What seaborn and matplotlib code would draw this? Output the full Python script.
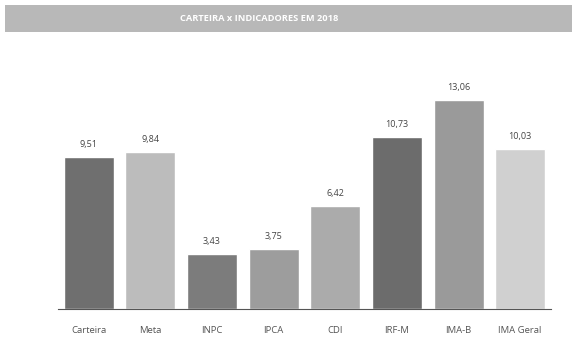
import numpy as np
import pandas as pd
import matplotlib
matplotlib.use("Agg")
import matplotlib.pyplot as plt
import seaborn as sns
from matplotlib.patches import Rectangle

# data
categories = ["Carteira", "Meta", "INPC", "IPCA", "CDI", "IRF-M", "IMA-B", "IMA Geral"]
values = [9.51, 9.84, 3.43, 3.75, 6.42, 10.73, 13.06, 10.03]
value_labels = ["9,51", "9,84", "3,43", "3,75", "6,42", "10,73", "13,06", "10,03"]
bar_colors = ["#6f6f6f", "#bcbcbc", "#7c7c7c", "#9d9d9d", "#ababab", "#6c6c6c", "#9a9a9a", "#d0d0d0"]
title = "CARTEIRA x INDICADORES EM 2018"

sns.set_style("white")
plt.rcParams["font.family"] = ["Open Sans", "DejaVu Sans"]

df = pd.DataFrame({"indicador": categories, "valor": values})

fig = plt.figure(figsize=(5.77, 3.38), dpi=100)
ax = fig.add_axes([58 / 577, 29 / 338, 493 / 577, 232 / 338])

sns.barplot(data=df, x="indicador", y="valor", hue="indicador", palette=bar_colors,
            legend=False, width=0.81, ax=ax, saturation=1)

ax.set_ylim(0, 14.5)
ax.set_xlim(-0.5, 7.5)
for i, (v, lab) in enumerate(zip(values, value_labels)):
    ax.text(i, v + 0.5, lab, ha="center", va="bottom", fontsize=6.5, color="#444444")

sns.despine(ax=ax, left=True)
ax.spines["bottom"].set_color("#555555")
ax.spines["bottom"].set_linewidth(0.8)
ax.set_yticks([])
ax.set_xlabel("")
ax.set_ylabel("")
ax.tick_params(axis="x", length=0, pad=12, labelsize=6.8, labelcolor="#555555")

# grey title banner
fig.patches.append(Rectangle((5 / 577, 1 - 32 / 338), 567 / 577, 27 / 338,
                             transform=fig.transFigure, facecolor="#b8b8b8",
                             edgecolor="none", zorder=0))
fig.text(259 / 577, 1 - 18.5 / 338, title, ha="center", va="center",
         fontsize=6.7, color="white", fontweight="bold")

fig.savefig("out.png", dpi=100)
